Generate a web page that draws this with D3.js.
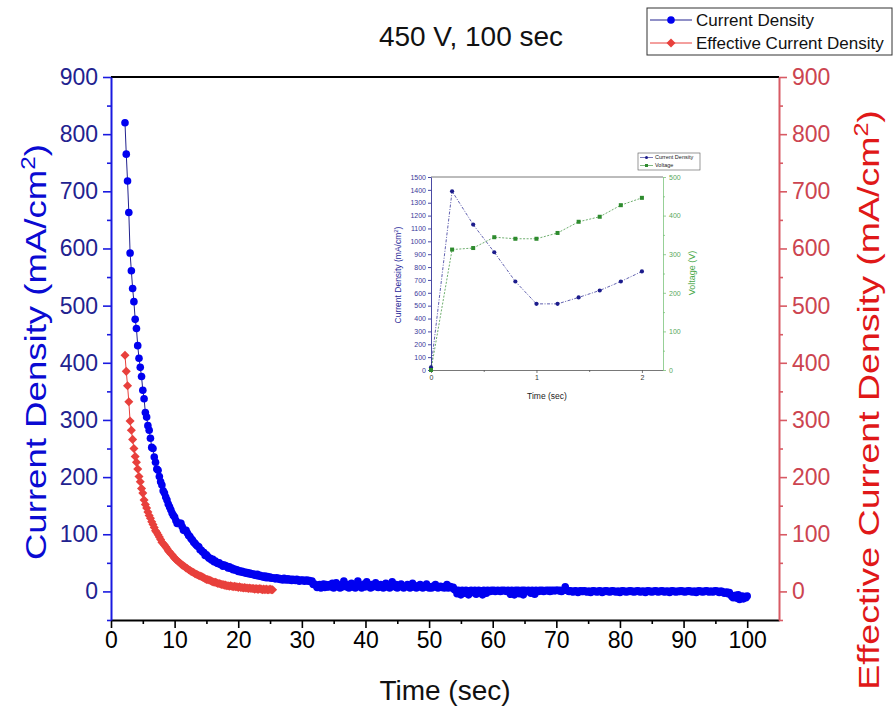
<!DOCTYPE html>
<html lang="en">
<head>
<meta charset="UTF-8">
<title>450 V, 100 sec</title>
<script src="https://d3js.org/d3.v7.min.js"></script>
<style>
  body { margin: 0; background: #fff; }
  svg { font-family: "Liberation Sans", Arial, sans-serif; }
</style>
</head>
<body>
<div id="chart"></div>
<script>
// sampling grid of both main series (sec)
const t0 = 2.2, dt = 0.2;

// Current Density (mA/cm2), left axis
const currentDensity = [
  820,765,718,663,592,561,530,507,476,460,430,408,392,376,352,337,313,305,290,282,
  268,252,250,235,226,214,212,201,192,186,176,172,165,160,153,148,143,137,133,130,
  124,119,119,119,119,113,107,107,107,102,98,96,92,90,86,84,81,79,78,73,
  72,69,68,63,64,61,58,58,55,56,52,53,50,49,50,47,47,44,46,45,
  44,41,43,40,41,38,39,37,38,35,36,34,35,33,34,32,33,31,32,30,
  31,29,30,28,30,27,28,26,27,25,27,24,26,24,25,23,24,23,22,24,
  22,23,21,22,20,23,21,20,22,20,21,19,21,20,19,21,20,18,20,19,
  20,18,19,20,18,19,17,18,12,13,11,7,8,12,6,8,13,7,12,8,
  8,12,8,14,6,8,15,9,8,6,12,8,18,9,8,12,6,8,14,8,
  8,6,9,18,12,8,6,9,13,8,17,10,8,6,12,8,9,15,8,7,
  9,12,8,6,8,14,8,9,6,8,17,9,8,12,6,8,9,13,8,6,
  8,9,12,8,6,8,14,8,9,6,10,8,12,8,6,9,8,13,8,6,
  8,6,9,8,12,8,6,8,9,7,8,6,8,12,6,9,8,6,7,3,
  2,-4,2,0,-6,2,1,-3,2,0,-6,1,2,-2,0,2,-5,1,2,0,
  1,-6,2,0,-3,2,1,0,2,1,2,0,1,2,1,0,2,1,2,1,
  0,2,1,-5,2,1,-6,2,0,2,-4,1,2,-6,2,1,0,2,1,-3,
  2,1,-5,2,1,0,2,1,2,0,1,2,1,2,0,2,1,2,1,2,
  2,1,2,0,1,2,8,2,1,0,1,0,-1,0,1,0,-2,0,1,0,
  0,1,0,-1,0,0,-2,0,1,0,0,-1,0,1,0,-2,0,0,1,0,
  0,-1,0,1,0,0,-1,0,0,-2,0,1,0,0,-1,0,0,1,0,0,
  -1,0,0,1,0,-1,0,0,0,-2,0,1,0,0,-1,0,0,1,0,-1,
  0,0,1,0,-1,0,0,0,-2,0,1,0,0,-1,0,0,0,1,0,0,
  -1,0,0,1,0,0,-1,0,0,-2,0,1,0,0,-1,0,0,1,0,-1,
  0,0,-1,0,1,0,0,-2,0,0,-1,-3,-2,-1,-4,-2,-6,-9,-11,-8,
  -7,-12,-6,-14,-10,-8,-13,-9,-11,-8
];

// Effective Current Density (mA/cm2), right axis
const effectiveDensity = [
  413,385,360,332,298,282,266,250,236,226,214,201,192,180,172,160,152,146,139,133,
  128,122,117,112,106,103,99,95,91,86,84,81,78,75,71,69,66,64,61,58,
  56,54,52,50,48,46,45,43,41,40,38,37,35,34,33,31,30,29,28,27,
  26,25,24,22,21,21,20,19,18,17,16,16,15,14,14,13,12,12,11,11,
  10,10,9,10,9,8,9,8,8,7,8,7,7,6,7,6,6,5,6,5,
  5,5,4,5,4,4,5,4,3,4,3,4,3,3,4,3,3
];

const xTicks = [0,10,20,30,40,50,60,70,80,90,100];
const xMinor = [5,15,25,35,45,55,65,75,85,95];
const yTicks = [0,100,200,300,400,500,600,700,800,900];
const yMinor = [-50,50,150,250,350,450,550,650,750,850];

// inset: first 2 seconds
const insetTime = [0,0.2,0.4,0.6,0.8,1.0,1.2,1.4,1.6,1.8,2.0];
const insetCurrent = [20,1389,1130,915,688,514,514,564,618,688,766];
const insetVoltage = [0,312,316,344,340,340,355,384,397,427,446];
const insetYTicks = [0,100,200,300,400,500,600,700,800,900,1000,1100,1200,1300,1400,1500];
const insetVTicks = [0,100,200,300,400,500];
const insetVMinor = [50,150,250,350,450];
const insetXTicks = [0,1,2];
const insetXMinor = [0.5,1.5];

const W = 896, H = 709;
const BLUE = "#0000f0", NAVY = "#22228f", RED = "#e8403c";

const svg = d3.select("#chart").append("svg")
  .attr("width", W).attr("height", H);

const x = d3.scaleLinear().domain([0, 105]).range([111, 779]);
const yL = d3.scaleLinear().domain([-50, 900]).range([620, 77]);
const yR = d3.scaleLinear().domain([-50, 900]).range([620, 77]);

const cur = currentDensity.map((v, i) => ({t: t0 + i * dt, v}));
const eff = effectiveDensity.map((v, i) => ({t: t0 + i * dt, v}));

function styleAxis(g, lineColor, textColor, fontSize) {
  g.select(".domain").attr("stroke", lineColor).attr("stroke-width", 2);
  g.selectAll(".tick line").attr("stroke", lineColor).attr("stroke-width", 1.6);
  g.selectAll(".tick text").attr("fill", textColor).style("font-size", fontSize + "px");
}

// top frame line
svg.append("line")
  .attr("x1", 111).attr("x2", 779).attr("y1", 77).attr("y2", 77)
  .attr("stroke", "#000").attr("stroke-width", 2);

// bottom axis
const gx = svg.append("g").attr("transform", "translate(0,620)")
  .call(d3.axisBottom(x).tickValues(xTicks).tickSize(8).tickSizeOuter(0).tickPadding(4));
styleAxis(gx, "#000", "#000", 23);
svg.append("g").attr("transform", "translate(0,620)")
  .call(d3.axisBottom(x).tickValues(xMinor).tickSize(4).tickFormat(""))
  .call(g => { g.select(".domain").remove(); g.selectAll("line").attr("stroke", "#000").attr("stroke-width", 1.6); });

// left axis
const gl = svg.append("g").attr("transform", "translate(111,0)")
  .call(d3.axisLeft(yL).tickValues(yTicks).tickSize(8).tickSizeOuter(0).tickPadding(5));
styleAxis(gl, "#1a1ae0", NAVY, 23);
svg.append("g").attr("transform", "translate(111,0)")
  .call(d3.axisLeft(yL).tickValues(yMinor).tickSize(4).tickFormat(""))
  .call(g => { g.select(".domain").remove(); g.selectAll("line").attr("stroke", "#1a1ae0").attr("stroke-width", 1.6); });

// right axis
const gr = svg.append("g").attr("transform", "translate(779,0)")
  .call(d3.axisRight(yR).tickValues(yTicks).tickSize(8).tickSizeOuter(0).tickPadding(5));
styleAxis(gr, "#d85a64", "#cc4450", 23);
svg.append("g").attr("transform", "translate(779,0)")
  .call(d3.axisRight(yR).tickValues(yMinor).tickSize(4).tickFormat(""))
  .call(g => { g.select(".domain").remove(); g.selectAll("line").attr("stroke", "#d85a64").attr("stroke-width", 1.6); });

// titles
svg.append("text").attr("x", 471).attr("y", 46).attr("text-anchor", "middle")
  .style("font-size", "28px").attr("fill", "#111").text("450 V, 100 sec");
svg.append("text").attr("x", 445).attr("y", 700).attr("text-anchor", "middle")
  .style("font-size", "28px").attr("fill", "#111").text("Time (sec)");

// axis titles: long and narrow, as in the picture
const lt = svg.append("text").attr("transform", "translate(46,352) rotate(-90) scale(1.22,1)")
  .attr("text-anchor", "middle").style("font-size", "30px").attr("fill", "#0a0ad2");
lt.append("tspan").text("Current Density (mA/cm");
lt.append("tspan").attr("dy", -11).style("font-size", "20px").text("2");
lt.append("tspan").attr("dy", 11).text(")");

const rt = svg.append("text").attr("transform", "translate(879,400) rotate(-90) scale(1.25,1)")
  .attr("text-anchor", "middle").style("font-size", "30px").attr("fill", "#e01818");
rt.append("tspan").text("Effective Current Density (mA/cm");
rt.append("tspan").attr("dy", -11).style("font-size", "20px").text("2");
rt.append("tspan").attr("dy", 11).text(")");

// series
const lineL = d3.line().x(d => x(d.t)).y(d => yL(d.v));
const lineR = d3.line().x(d => x(d.t)).y(d => yR(d.v));

svg.append("path").datum(cur).attr("d", lineL)
  .attr("fill", "none").attr("stroke", NAVY).attr("stroke-width", 1);
svg.append("g").selectAll("circle").data(cur).join("circle")
  .attr("cx", d => x(d.t)).attr("cy", d => yL(d.v)).attr("r", 3.8)
  .attr("fill", BLUE);

const diamond = d3.symbol().type(d3.symbolDiamond2).size(52);
svg.append("path").datum(eff).attr("d", lineR)
  .attr("fill", "none").attr("stroke", RED).attr("stroke-width", 1);
svg.append("g").selectAll("path").data(eff).join("path")
  .attr("transform", d => `translate(${x(d.t)},${yR(d.v)})`)
  .attr("d", diamond).attr("fill", RED);

// legend
const lg = svg.append("g");
lg.append("rect").attr("x", 647).attr("y", 8).attr("width", 245).attr("height", 47)
  .attr("fill", "#fff").attr("stroke", "#333").attr("stroke-width", 1);
[["Current Density", NAVY, BLUE, "c", 20], ["Effective Current Density", RED, RED, "d", 43]].forEach(([label, lc, mc, m, yy]) => {
  lg.append("line").attr("x1", 650).attr("x2", 692).attr("y1", yy).attr("y2", yy)
    .attr("stroke", lc).attr("stroke-width", 1);
  if (m === "c") lg.append("circle").attr("cx", 671).attr("cy", yy).attr("r", 3.8).attr("fill", mc);
  else lg.append("path").attr("transform", `translate(671,${yy})`).attr("d", diamond).attr("fill", mc);
  lg.append("text").attr("x", 696).attr("y", yy).attr("dy", "0.35em")
    .style("font-size", "17px").attr("fill", "#111").text(label);
});

// ---- inset ----
const INAVY = "#1c1c8c", IGREEN = "#2e8b2e";
const ix = d3.scaleLinear().domain([0, 2.2]).range([431, 663]);
const iyL = d3.scaleLinear().domain([0, 1500]).range([370, 177]);
const iyR = d3.scaleLinear().domain([0, 500]).range([370, 177]);
const ins = svg.append("g");

function styleInset(g, color, textColor) {
  g.select(".domain").attr("stroke", color).attr("stroke-width", 0.8);
  g.selectAll(".tick line").attr("stroke", color).attr("stroke-width", 0.8);
  g.selectAll(".tick text").attr("fill", textColor).style("font-size", "7px");
}

ins.append("line").attr("x1", 431).attr("x2", 663).attr("y1", 177).attr("y2", 177)
  .attr("stroke", "#555").attr("stroke-width", 0.8);
ins.append("g").attr("transform", "translate(0,370)")
  .call(d3.axisBottom(ix).tickValues(insetXTicks).tickFormat(d3.format("d")).tickSize(3).tickSizeOuter(0).tickPadding(2))
  .call(g => styleInset(g, "#555", "#333"));
ins.append("g").attr("transform", "translate(0,370)")
  .call(d3.axisBottom(ix).tickValues(insetXMinor).tickSize(2).tickFormat(""))
  .call(g => { g.select(".domain").remove(); g.selectAll("line").attr("stroke", "#555").attr("stroke-width", 0.8); });
ins.append("g").attr("transform", "translate(431,0)")
  .call(d3.axisLeft(iyL).tickValues(insetYTicks).tickFormat(d3.format("d")).tickSize(3).tickSizeOuter(0).tickPadding(2))
  .call(g => styleInset(g, INAVY, "#3a3a9a"));
ins.append("g").attr("transform", "translate(663,0)")
  .call(d3.axisRight(iyR).tickValues(insetVTicks).tickFormat(d3.format("d")).tickSize(3).tickSizeOuter(0).tickPadding(3))
  .call(g => styleInset(g, "#7cc47c", "#5aa85a"));
ins.append("g").attr("transform", "translate(663,0)")
  .call(d3.axisRight(iyR).tickValues(insetVMinor).tickSize(2).tickFormat(""))
  .call(g => { g.select(".domain").remove(); g.selectAll("line").attr("stroke", "#7cc47c").attr("stroke-width", 0.8); });

const ilt = ins.append("text").attr("transform", "translate(401,275) rotate(-90)")
  .attr("text-anchor", "middle").style("font-size", "8.5px").attr("fill", "#2a2a9a");
ilt.append("tspan").text("Current Density (mA/cm");
ilt.append("tspan").attr("dy", -3).style("font-size", "6px").text("2");
ilt.append("tspan").attr("dy", 3).text(")");
ins.append("text").attr("transform", "translate(695,273) rotate(-90)")
  .attr("text-anchor", "middle").style("font-size", "9px").attr("fill", "#4aa84a").text("Voltage (V)");
ins.append("text").attr("x", 547).attr("y", 399).attr("text-anchor", "middle")
  .style("font-size", "8.5px").attr("fill", "#222").text("Time (sec)");

const icur = insetTime.map((t, i) => ({t, v: insetCurrent[i]}));
const ivol = insetTime.map((t, i) => ({t, v: insetVoltage[i]}));
ins.append("path").datum(icur)
  .attr("d", d3.line().x(d => ix(d.t)).y(d => iyL(d.v)))
  .attr("fill", "none").attr("stroke", INAVY).attr("stroke-width", 0.7).attr("stroke-dasharray", "3,1.5,1,1.5");
ins.append("path").datum(ivol)
  .attr("d", d3.line().x(d => ix(d.t)).y(d => iyR(d.v)))
  .attr("fill", "none").attr("stroke", IGREEN).attr("stroke-width", 0.7).attr("stroke-dasharray", "2,1.5");
ins.append("g").selectAll("circle").data(icur).join("circle")
  .attr("cx", d => ix(d.t)).attr("cy", d => iyL(d.v)).attr("r", 2.1).attr("fill", INAVY);
ins.append("g").selectAll("rect").data(ivol).join("rect")
  .attr("x", d => ix(d.t) - 2).attr("y", d => iyR(d.v) - 2).attr("width", 4).attr("height", 4)
  .attr("fill", IGREEN);

// inset legend
const il = ins.append("g");
il.append("rect").attr("x", 638).attr("y", 153).attr("width", 62).attr("height", 17)
  .attr("fill", "#fff").attr("stroke", "#555").attr("stroke-width", 0.6);
[["Current Density", INAVY, "c", 157.5], ["Voltage", IGREEN, "s", 165.5]].forEach(([label, c, m, yy]) => {
  il.append("line").attr("x1", 640).attr("x2", 653).attr("y1", yy).attr("y2", yy)
    .attr("stroke", c).attr("stroke-width", 0.6);
  if (m === "c") il.append("circle").attr("cx", 646.5).attr("cy", yy).attr("r", 1.5).attr("fill", c);
  else il.append("rect").attr("x", 645).attr("y", yy - 1.5).attr("width", 3).attr("height", 3).attr("fill", c);
  il.append("text").attr("x", 655).attr("y", yy).attr("dy", "0.35em")
    .style("font-size", "5.5px").attr("fill", "#222").text(label);
});
</script>
</body>
</html>
